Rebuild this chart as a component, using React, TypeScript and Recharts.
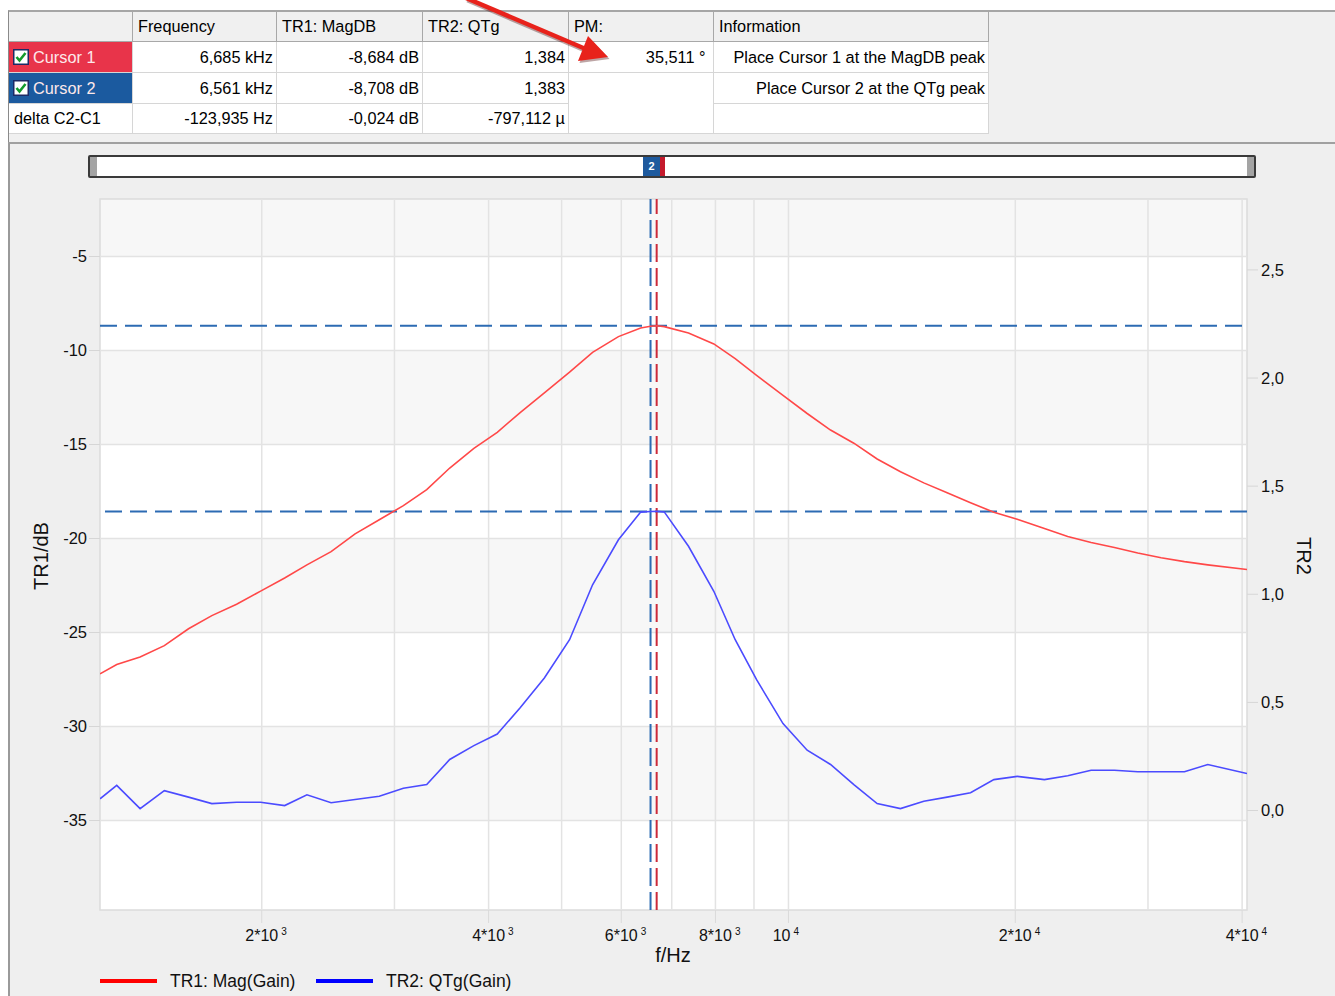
import React from "react";
import {
  ComposedChart,
  Line,
  XAxis,
  YAxis,
  CartesianGrid,
  ReferenceLine,
  ReferenceArea,
} from "recharts";

// sweep frequencies (Hz)
const FREQ_HZ = [
  1220, 1284, 1379, 1485, 1599, 1717, 1852, 1993, 2145, 2296,
  2472, 2660, 2864, 3083, 3311, 3552, 3824, 4107, 4405, 4743,
  5123, 5496, 5948, 6366, 6561, 6685, 6842, 7368, 7961, 8498,
  9072, 9835, 10588, 11372, 12212, 13113, 14082, 15122, 16240, 17443,
  18733, 20119, 21862, 23476, 25213, 27077, 29078, 31226, 33536, 36015,
  40600,
];

// TR1: Mag(Gain) in dB
const TR1_DB = [
  -27.2, -26.7, -26.3, -25.7, -24.8, -24.1, -23.5, -22.8, -22.1, -21.4,
  -20.7, -19.75, -19.0, -18.25, -17.4, -16.25, -15.2, -14.35, -13.3, -12.25,
  -11.15, -10.1, -9.26, -8.8, -8.708, -8.684, -8.73, -9.07, -9.65, -10.43,
  -11.32, -12.38, -13.35, -14.23, -14.93, -15.77, -16.45, -17.04, -17.57, -18.1,
  -18.6, -18.98, -19.47, -19.89, -20.21, -20.48, -20.77, -21.02, -21.23, -21.4,
  -21.65,
];

// TR2: QTg(Gain)
const TR2_QTG = [
  0.054, 0.116, 0.009, 0.092, 0.062, 0.032, 0.038, 0.038, 0.023, 0.073,
  0.036, 0.051, 0.066, 0.103, 0.12, 0.236, 0.3, 0.354, 0.475, 0.613,
  0.79, 1.044, 1.252, 1.38, 1.383, 1.384, 1.381, 1.222, 1.014, 0.79,
  0.605, 0.402, 0.279, 0.213, 0.12, 0.032, 0.009, 0.043, 0.062, 0.082,
  0.143, 0.158, 0.143, 0.161, 0.186, 0.186, 0.179, 0.179, 0.179, 0.213,
  0.171,
];

const X_DOMAIN = [1220, 40600];
const X_TICKS = [2000, 4000, 6000, 8000, 10000, 20000, 40000];
const X_GRID = [2000, 3000, 4000, 5000, 6000, 7000, 8000, 9000, 10000, 20000, 30000, 40000];

const TR1_DOMAIN = [-39.76, -1.94];
const TR1_TICKS = [-35, -30, -25, -20, -15, -10, -5];
const TR1_BANDS = [[-5, -1.94], [-15, -10], [-25, -20], [-35, -30]];

const TR2_DOMAIN = [-0.46, 2.828];
const TR2_TICKS = [0, 0.5, 1, 1.5, 2, 2.5];

// cursor readout
const CURSOR_NAMES = ["Cursor 1", "Cursor 2", "delta C2-C1"];
const CURSOR_FREQ = [6685, 6561];
const CURSOR_TR1 = [-8.684, -8.708];
const CURSOR_TR2 = [1.384, 1.383];

const TABLE_HEADERS = ["", "Frequency", "TR1: MagDB", "TR2: QTg", "PM:", "Information"];
const FREQ_TEXT = ["6,685 kHz", "6,561 kHz", "-123,935 Hz"];
const MAGDB_TEXT = ["-8,684 dB", "-8,708 dB", "-0,024 dB"];
const QTG_TEXT = ["1,384", "1,383", "-797,112 µ"];
const PM_TEXT = ["35,511 °"];
const INFO_TEXT = ["Place Cursor 1 at the MagDB peak", "Place Cursor 2 at the QTg peak", ""];

const SERIES = [
  { key: "tr1", name: "TR1: Mag(Gain)", axis: "left", color: "#ff4848", legend: "#ff0000" },
  { key: "tr2", name: "TR2: QTg(Gain)", axis: "right", color: "#4b4bff", legend: "#0000ff" },
];

const rows = FREQ_HZ.map((f, i) => ({ f, tr1: TR1_DB[i], tr2: TR2_QTG[i] }));

const range = (a: number, b: number, step: number) => {
  const out: number[] = [];
  for (let v = a; v <= b + 1e-9; v += step) out.push(Math.round(v * 10) / 10);
  return out;
};
const TR1_MINOR = range(-39, -2, 1);
const TR2_MINOR = range(-0.4, 2.8, 0.1);

const FONT = '"Liberation Sans", Arial, sans-serif';
const GRID = "#e3e3e3";
const CUR_BLUE = "#2c6bb3";
const CUR_RED = "#cc2a3a";

const COL_X = [9, 133, 277, 423, 569, 714, 989];
const ROW_Y = [12, 42, 73, 104, 134];

function FreqTick(props: any) {
  const { x, y, payload } = props;
  const v = payload.value as number;
  const exp = Math.floor(Math.log10(v) + 1e-9);
  const mant = Math.round(v / Math.pow(10, exp));
  const main = mant === 1 ? "10" : `${mant}*10`;
  const w = main.split("").reduce((s, c) => s + (c === "*" ? 6.2 : 8.9), 0);
  const left = mant === 1 ? x + 2 - w : x - w / 2;
  const base = y + 16;
  return (
    <g>
      <text x={left} y={base} fontSize={16} fill="#111" fontFamily={FONT}>
        {main}
      </text>
      <text x={left + w + 3} y={base - 6} fontSize={10} fill="#111" fontFamily={FONT}>
        {exp}
      </text>
    </g>
  );
}

function Cell({ c, r, rs = 1, cs = 1, children, bg = "#fff", align = "right", color = "#000", line = "#d6d6d6" }: any) {
  const left = COL_X[c];
  const top = ROW_Y[r];
  return (
    <div
      style={{
        position: "absolute",
        left,
        top,
        width: COL_X[c + cs] - left,
        height: ROW_Y[r + rs] - top,
        background: bg,
        borderRight: `1px solid ${line}`,
        borderBottom: `1px solid ${line}`,
        boxSizing: "border-box",
        display: "flex",
        alignItems: "center",
        justifyContent: align === "right" ? "flex-end" : "flex-start",
        padding: "0 3px 0 5px",
        color,
        fontSize: 16.3,
        whiteSpace: "nowrap",
        overflow: "hidden",
      }}
    >
      {children}
    </div>
  );
}

function Check() {
  return (
    <svg width={16} height={16} style={{ marginLeft: -1, marginRight: 4 }}>
      <rect x={0.75} y={0.75} width={14.5} height={14.5} fill="#fff" stroke="#1c2a66" strokeWidth={1.5} />
      <path d="M3.5 8 L6.5 11.5 L12.5 4" fill="none" stroke="#139a2c" strokeWidth={2.6} />
    </svg>
  );
}

function CursorTable() {
  const rowBg = ["#e8344a", "#1b5a9f", "#fff"];
  return (
    <>
      {TABLE_HEADERS.map((h, c) => (
        <Cell key={"h" + c} c={c} r={0} bg="#f0f0f0" align="left" line="#a8a8a8">
          {h}
        </Cell>
      ))}
      {CURSOR_NAMES.map((n, r) => (
        <Cell key={"n" + r} c={0} r={r + 1} bg={rowBg[r]} align="left" color={r < 2 ? "#fde8ea" : "#000"}>
          {r < 2 && <Check />}
          {n}
        </Cell>
      ))}
      {FREQ_TEXT.map((t, r) => (
        <Cell key={"f" + r} c={1} r={r + 1}>{t}</Cell>
      ))}
      {MAGDB_TEXT.map((t, r) => (
        <Cell key={"m" + r} c={2} r={r + 1}>{t}</Cell>
      ))}
      {QTG_TEXT.map((t, r) => (
        <Cell key={"q" + r} c={3} r={r + 1}>{t}</Cell>
      ))}
      <Cell c={4} r={1}>{PM_TEXT[0]}&nbsp;</Cell>
      <Cell c={4} r={2} rs={2} />
      {INFO_TEXT.map((t, r) => (
        <Cell key={"i" + r} c={5} r={r + 1}>{t}</Cell>
      ))}
    </>
  );
}

function Arrow() {
  return (
    <svg width={1335} height={90} style={{ position: "absolute", left: 0, top: 0, pointerEvents: "none" }}>
      <g opacity={0.35} transform="translate(1.5,2)">
        <line x1={466} y1={-2} x2={588} y2={50} stroke="#400" strokeWidth={5} />
        <polygon points="608,57 578,61 588,36" fill="#400" />
      </g>
      <line x1={466} y1={-2} x2={588} y2={50} stroke="#e8221b" strokeWidth={4.5} />
      <polygon points="608,57 578,61 588,36" fill="#e8221b" />
    </svg>
  );
}

export default function App() {
  return (
    <div
      style={{
        position: "relative",
        width: 1335,
        height: 996,
        overflow: "hidden",
        background: "#fff",
        fontFamily: FONT,
      }}
    >
      <style>{"body{margin:0}"}</style>

      {/* cursor table panel */}
      <div
        style={{
          position: "absolute",
          left: 8,
          top: 10,
          width: 1327,
          height: 133,
          background: "#f0f0f0",
          borderTop: "2px solid #a6a6a6",
          borderLeft: "1px solid #8a8a8a",
          boxSizing: "border-box",
        }}
      />
      <CursorTable />

      {/* chart panel */}
      <div
        style={{
          position: "absolute",
          left: 8,
          top: 142,
          width: 1327,
          height: 854,
          background: "#efefef",
          borderTop: "2px solid #a0a0a0",
          borderLeft: "2px solid #9a9a9a",
          boxSizing: "border-box",
        }}
      />

      {/* scrollbar with cursor markers */}
      <div
        style={{
          position: "absolute",
          left: 88,
          top: 155,
          width: 1168,
          height: 23,
          background: "#fff",
          border: "2px solid #3a3a3a",
          borderRadius: 2,
          boxSizing: "border-box",
        }}
      >
        <div style={{ position: "absolute", left: 0, top: 0, width: 7, height: 19, background: "#a4a4a4" }} />
        <div style={{ position: "absolute", right: 0, top: 0, width: 7, height: 19, background: "#a4a4a4" }} />
        <div
          style={{
            position: "absolute",
            left: 553,
            top: 0,
            width: 17,
            height: 19,
            background: "#1e5a9e",
            color: "#fff",
            fontSize: 11,
            fontWeight: "bold",
            textAlign: "center",
            lineHeight: "19px",
          }}
        >
          2
        </div>
        <div style={{ position: "absolute", left: 570, top: 0, width: 5, height: 19, background: "#c41a2c" }} />
      </div>

      <div style={{ position: "absolute", left: 0, top: 143 }}>
        <ComposedChart
          width={1335}
          height={853}
          data={rows}
          margin={{ top: 56, right: 28, bottom: 46, left: 40 }}
        >
          <CartesianGrid yAxisId="left" horizontal={false} vertical={false} fill="#ffffff" />
          {TR1_BANDS.map(([a, b]) => (
            <ReferenceArea
              key={"band" + a}
              yAxisId="left"
              y1={a}
              y2={b}
              fill="#000"
              fillOpacity={0.03}
              stroke="none"
            />
          ))}
          {TR1_TICKS.map((v) => (
            <ReferenceLine key={"gy" + v} yAxisId="left" y={v} stroke={GRID} strokeWidth={1.5} />
          ))}
          {X_GRID.map((v) => (
            <ReferenceLine key={"gx" + v} yAxisId="left" x={v} stroke={GRID} strokeWidth={1.5} />
          ))}
          <ReferenceArea
            yAxisId="left"
            x1={X_DOMAIN[0]}
            x2={X_DOMAIN[1]}
            y1={TR1_DOMAIN[0]}
            y2={TR1_DOMAIN[1]}
            fill="none"
            stroke="#dcdcdc"
            strokeWidth={1.5}
          />
          <ReferenceLine yAxisId="left" y={CURSOR_TR1[0]} stroke={CUR_BLUE} strokeWidth={2} strokeDasharray="17 8" />
          <ReferenceLine yAxisId="right" y={CURSOR_TR2[1]} stroke={CUR_BLUE} strokeWidth={2} strokeDasharray="17 8" />
          <ReferenceLine yAxisId="left" x={CURSOR_FREQ[1]} stroke={CUR_BLUE} strokeWidth={2} strokeDasharray="18 6" />
          <ReferenceLine yAxisId="left" x={CURSOR_FREQ[0]} stroke={CUR_RED} strokeWidth={2} strokeDasharray="18 6" />

          <XAxis
            dataKey="f"
            type="number"
            scale="log"
            domain={X_DOMAIN}
            allowDataOverflow
            ticks={X_TICKS}
            interval={0}
            tick={<FreqTick />}
            tickSize={13}
            tickLine={{ stroke: "#dadada" }}
            axisLine={false}
            height={40}
          />
          <YAxis
            yAxisId="left"
            domain={TR1_DOMAIN}
            allowDataOverflow
            ticks={TR1_TICKS}
            interval={0}
            width={60}
            tickSize={11}
            tickMargin={2}
            axisLine={false}
            tickLine={{ stroke: "#d6d6d6" }}
            tick={{ fontSize: 16.5, fill: "#111", fontFamily: FONT }}
          />
          <YAxis
            yAxisId="leftMinor"
            mirror
            domain={TR1_DOMAIN}
            allowDataOverflow
            ticks={TR1_MINOR}
            interval={0}
            tick={false}
            tickSize={10}
            axisLine={false}
            tickLine={{ stroke: "#cfcfcf" }}
          />
          <YAxis
            yAxisId="right"
            orientation="right"
            domain={TR2_DOMAIN}
            allowDataOverflow
            ticks={TR2_TICKS}
            interval={0}
            width={60}
            tickSize={11}
            tickMargin={3}
            axisLine={false}
            tickLine={{ stroke: "#d6d6d6" }}
            tickFormatter={(v: number) => v.toFixed(1).replace(".", ",")}
            tick={{ fontSize: 16.5, fill: "#111", fontFamily: FONT }}
          />
          <YAxis
            yAxisId="rightMinor"
            orientation="right"
            mirror
            domain={TR2_DOMAIN}
            allowDataOverflow
            ticks={TR2_MINOR}
            interval={0}
            tick={false}
            tickSize={9}
            axisLine={false}
            tickLine={{ stroke: "#cfcfcf" }}
          />

          {SERIES.map((s) => (
            <Line
              key={s.key}
              yAxisId={s.axis}
              dataKey={s.key}
              name={s.name}
              type="linear"
              stroke={s.color}
              strokeWidth={1.6}
              dot={false}
              isAnimationActive={false}
            />
          ))}
        </ComposedChart>
      </div>

      {/* axis titles */}
      <div
        style={{
          position: "absolute",
          left: 41,
          top: 556,
          transform: "translate(-50%,-50%) rotate(-90deg)",
          fontSize: 20,
          color: "#111",
          whiteSpace: "nowrap",
        }}
      >
        TR1/dB
      </div>
      <div
        style={{
          position: "absolute",
          left: 1303,
          top: 556,
          transform: "translate(-50%,-50%) rotate(90deg)",
          fontSize: 20,
          color: "#111",
          whiteSpace: "nowrap",
        }}
      >
        TR2
      </div>
      <div
        style={{
          position: "absolute",
          left: 673,
          top: 955,
          transform: "translate(-50%,-50%)",
          fontSize: 20,
          color: "#111",
          whiteSpace: "nowrap",
        }}
      >
        f/Hz
      </div>

      {/* legend */}
      {SERIES.map((s, i) => (
        <div
          key={"lg" + s.key}
          style={{ position: "absolute", left: 100 + i * 216, top: 971, height: 20, display: "flex", alignItems: "center" }}
        >
          <div style={{ width: 57, height: 4, background: s.legend, marginRight: 13 }} />
          <span style={{ fontSize: 17.5, color: "#111" }}>{s.name}</span>
        </div>
      ))}

      <Arrow />
    </div>
  );
}
